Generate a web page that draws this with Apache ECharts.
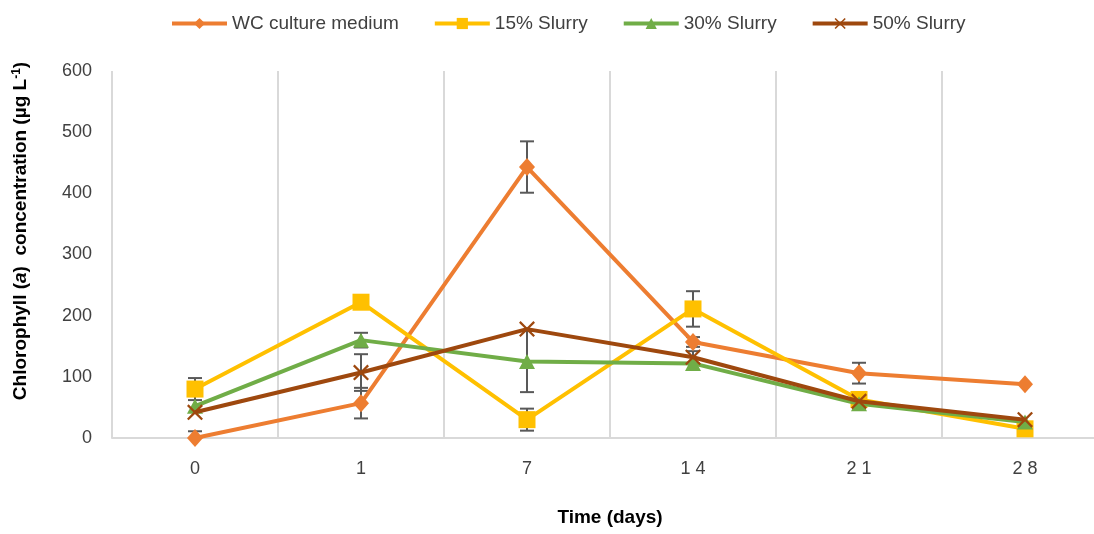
<!DOCTYPE html>
<html>
<head>
<meta charset="utf-8">
<script src="https://cdn.jsdelivr.net/npm/echarts@6/dist/echarts.min.js"></script>
<style>
  html, body { margin: 0; padding: 0; background: #fff; overflow: hidden; }
  /* the plot area runs slightly past the right edge of the window */
  #chart { width: 1108px; height: 534px; }
</style>
</head>
<body>
<div id="chart"></div>
<script>
// Sampling days
const categories = ['0', '1', '7', '14', '21', '28'];
const seriesNames = ['WC culture medium', '15% Slurry', '30% Slurry', '50% Slurry'];

// Chlorophyll (a) concentration, µg L-1, with standard deviations
const wcMedium    = [0, 57, 443, 157, 106, 88];
const wcMediumErr = [11, 25, 42, 8, 17, 0];
const slurry15    = [80, 222, 30, 211, 63, 15];
const slurry15Err = [18, 0, 18, 29, 0, 0];
const slurry30    = [52, 160, 125, 122, 56, 26];
const slurry30Err = [0, 12, 50, 0, 0, 0];
const slurry50    = [42, 107, 178, 132, 60, 30];
const slurry50Err = [0, 30, 0, 10, 0, 0];

const yTicks = { min: 0, max: 600, interval: 100 };

const colors = ['#ED7D31', '#FFC000', '#70AD47', '#9E480E'];
const crossPath = 'path://M0,1 L1,0 L5,4 L9,0 L10,1 L6,5 L10,9 L9,10 L5,6 L1,10 L0,9 L4,5 Z';
const symbols = ['diamond', 'rect', 'triangle', crossPath];
const symbolSizes = [[16, 18], 17, [16, 15], 16];
const values = [wcMedium, slurry15, slurry30, slurry50];
const errors = [wcMediumErr, slurry15Err, slurry30Err, slurry50Err];

const FONT = 'Liberation Sans';

function errorBarSeries(vals, errs) {
  const data = [];
  vals.forEach((v, i) => { if (errs[i] > 0) data.push([i, v, errs[i]]); });
  return {
    type: 'custom',
    silent: true,
    z: 1,
    data: data,
    renderItem: function (params, api) {
      const i = api.value(0), v = api.value(1), e = api.value(2);
      const top = api.coord([i, v + e]);
      const bot = api.coord([i, Math.max(v - e, 0)]);
      const w = 7;
      const style = { stroke: '#595959', lineWidth: 2 };
      return {
        type: 'group',
        children: [
          { type: 'line', shape: { x1: top[0], y1: top[1], x2: bot[0], y2: bot[1] }, style: style },
          { type: 'line', shape: { x1: top[0] - w, y1: top[1], x2: top[0] + w, y2: top[1] }, style: style },
          { type: 'line', shape: { x1: bot[0] - w, y1: bot[1], x2: bot[0] + w, y2: bot[1] }, style: style }
        ]
      };
    }
  };
}

const lineSeries = seriesNames.map((name, k) => ({
  name: name,
  type: 'line',
  z: 2 + k,
  data: values[k],
  symbol: symbols[k],
  symbolSize: symbolSizes[k],
  showAllSymbol: true,
  itemStyle: { color: colors[k] },
  lineStyle: { color: colors[k], width: 4 },
  emphasis: { disabled: true }
}));

const titleRich = {
  b: { fontFamily: FONT, fontSize: 19, fontWeight: 'bold', fill: '#000' },
  i: { fontFamily: FONT, fontSize: 19, fontWeight: 'bold', fontStyle: 'italic', fill: '#000' },
  sup: { fontFamily: FONT, fontSize: 12, fontWeight: 'bold', fill: '#000', padding: [0, 0, 9, 0] }
};

const chart = echarts.init(document.getElementById('chart'), null, { renderer: 'canvas' });
chart.setOption({
  animation: false,
  backgroundColor: '#ffffff',
  legend: {
    data: seriesNames,
    top: 9,
    left: 165,
    itemWidth: 55,
    itemHeight: 14,
    itemGap: 34,
    lineStyle: { width: 4 },
    textStyle: { fontFamily: FONT, fontSize: 19, color: '#404040' }
  },
  grid: { left: 112, top: 71, right: 0, bottom: 96 },
  xAxis: {
    type: 'category',
    data: categories,
    boundaryGap: true,
    axisLine: { show: true, lineStyle: { color: '#D9D9D9', width: 2 } },
    axisTick: { show: false },
    splitLine: { show: true, lineStyle: { color: '#D9D9D9', width: 2 } },
    axisLabel: {
      margin: 22,
      fontFamily: FONT, fontSize: 18, color: '#404040',
      formatter: v => v.split('').join(' ')
    },
    name: 'Time (days)',
    nameLocation: 'middle',
    nameGap: 70,
    nameTextStyle: { fontFamily: FONT, fontSize: 19, fontWeight: 'bold', color: '#000' }
  },
  yAxis: {
    type: 'value',
    min: yTicks.min, max: yTicks.max, interval: yTicks.interval,
    axisLine: { show: false },
    axisTick: { show: false },
    splitLine: { show: false },
    axisLabel: { margin: 20, fontFamily: FONT, fontSize: 18, color: '#404040' }
  },
  graphic: [{
    type: 'text',
    x: 21,
    y: 231,
    rotation: Math.PI / 2,
    style: {
      text: '{b|Chlorophyll (}{i|a}{b|)  concentration (µg L}{sup|-1}{b|)}',
      rich: titleRich,
      align: 'center',
      verticalAlign: 'middle'
    }
  }],
  series: lineSeries.concat(values.map((v, k) => errorBarSeries(v, errors[k])))
});
</script>
</body>
</html>
